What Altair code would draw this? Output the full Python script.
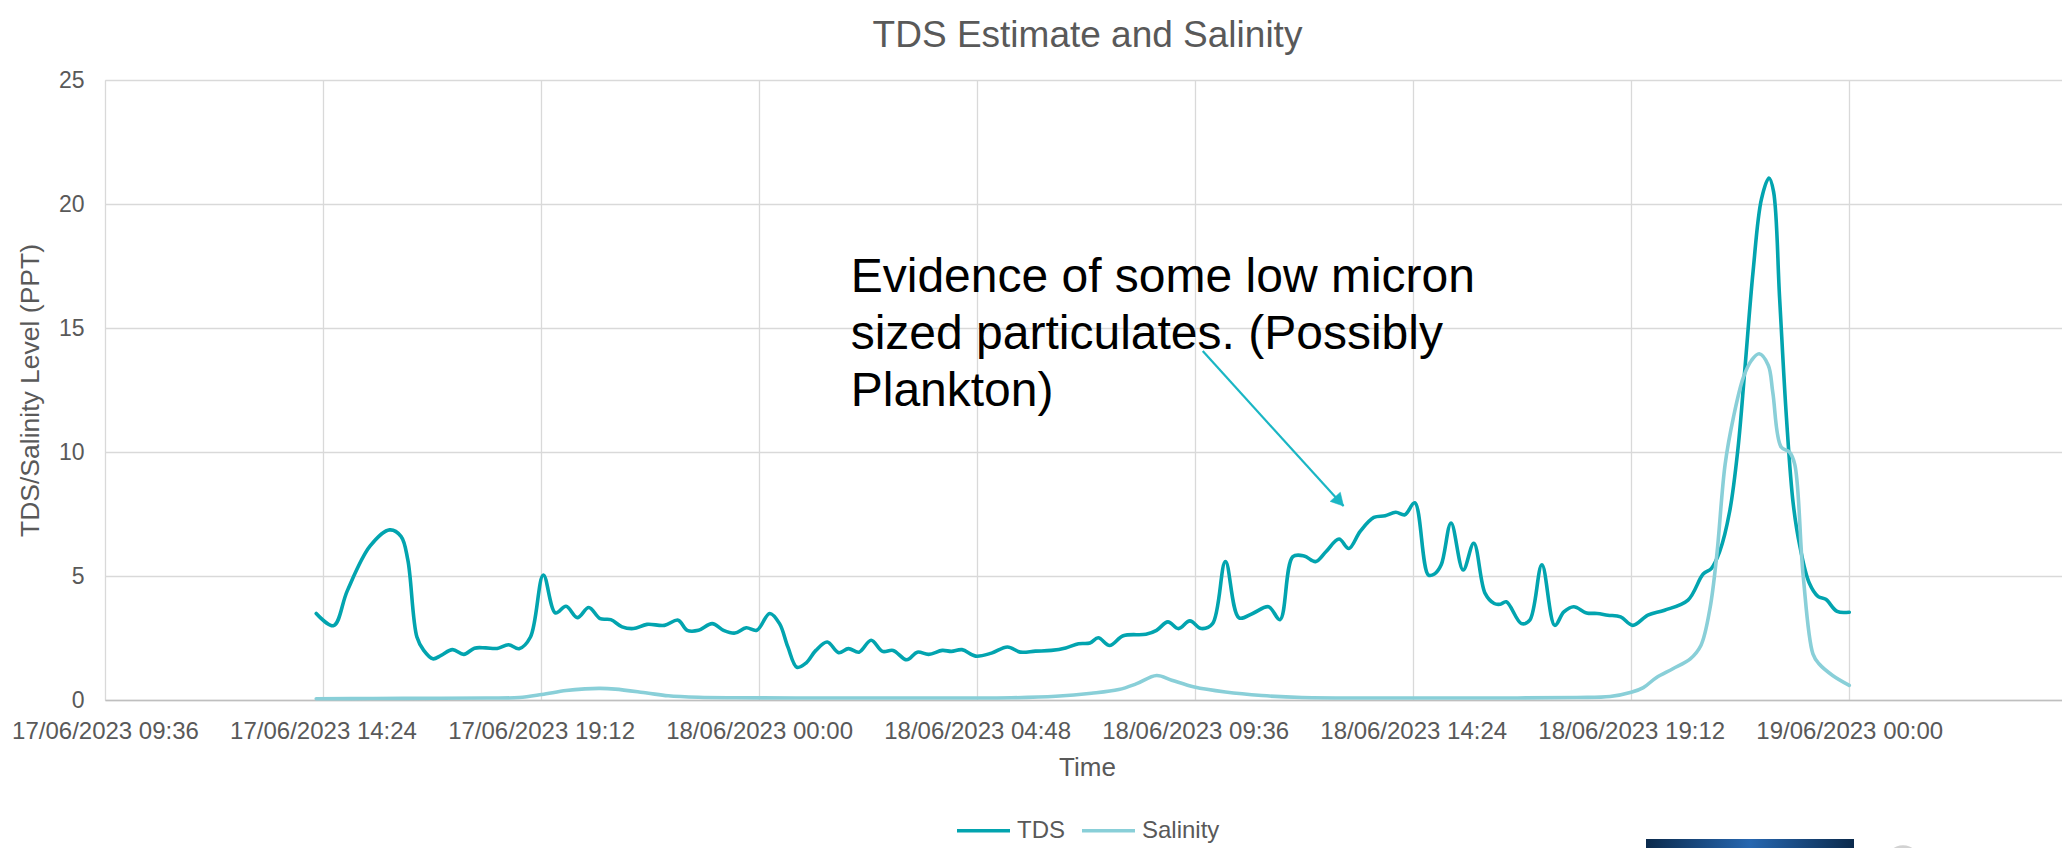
import altair as alt
import pandas as pd

# ---- series values (time stamps are UTC) ----
tds_time = [
    "2023-06-17 14:15", "2023-06-17 14:38", "2023-06-17 14:56", "2023-06-17 15:26",
    "2023-06-17 15:52", "2023-06-17 16:07", "2023-06-17 16:16", "2023-06-17 16:28",
    "2023-06-17 16:37", "2023-06-17 16:49", "2023-06-17 17:00", "2023-06-17 17:15",
    "2023-06-17 17:30", "2023-06-17 17:44", "2023-06-17 17:59", "2023-06-17 18:14",
    "2023-06-17 18:29", "2023-06-17 18:43", "2023-06-17 18:58", "2023-06-17 19:15",
    "2023-06-17 19:31", "2023-06-17 19:45", "2023-06-17 20:00", "2023-06-17 20:15",
    "2023-06-17 20:30", "2023-06-17 20:44", "2023-06-17 20:59", "2023-06-17 21:14",
    "2023-06-17 21:32", "2023-06-17 21:55", "2023-06-17 22:13", "2023-06-17 22:25",
    "2023-06-17 22:40", "2023-06-17 22:58", "2023-06-17 23:13", "2023-06-17 23:28",
    "2023-06-17 23:43", "2023-06-17 23:57",
    "2023-06-18 00:14", "2023-06-18 00:27", "2023-06-18 00:38", "2023-06-18 00:50",
    "2023-06-18 01:02", "2023-06-18 01:15", "2023-06-18 01:30", "2023-06-18 01:45",
    "2023-06-18 01:58", "2023-06-18 02:12", "2023-06-18 02:28", "2023-06-18 02:43",
    "2023-06-18 02:57", "2023-06-18 03:15", "2023-06-18 03:29", "2023-06-18 03:44",
    "2023-06-18 04:02", "2023-06-18 04:14", "2023-06-18 04:28", "2023-06-18 04:46",
    "2023-06-18 05:07", "2023-06-18 05:28", "2023-06-18 05:45", "2023-06-18 06:05",
    "2023-06-18 06:26", "2023-06-18 06:45", "2023-06-18 07:02", "2023-06-18 07:17",
    "2023-06-18 07:28", "2023-06-18 07:43", "2023-06-18 08:01", "2023-06-18 08:31",
    "2023-06-18 08:45", "2023-06-18 09:00", "2023-06-18 09:14", "2023-06-18 09:29",
    "2023-06-18 09:44", "2023-06-18 09:59", "2023-06-18 10:16", "2023-06-18 10:34",
    "2023-06-18 10:52", "2023-06-18 11:13", "2023-06-18 11:28", "2023-06-18 11:45",
    "2023-06-18 12:00", "2023-06-18 12:15", "2023-06-18 12:29", "2023-06-18 12:46",
    "2023-06-18 12:59", "2023-06-18 13:14", "2023-06-18 13:32", "2023-06-18 13:47",
    "2023-06-18 14:01", "2023-06-18 14:13", "2023-06-18 14:26", "2023-06-18 14:44",
    "2023-06-18 14:52", "2023-06-18 15:01", "2023-06-18 15:14", "2023-06-18 15:30",
    "2023-06-18 15:44", "2023-06-18 15:59", "2023-06-18 16:11", "2023-06-18 16:19",
    "2023-06-18 16:27", "2023-06-18 16:47", "2023-06-18 16:58", "2023-06-18 17:14",
    "2023-06-18 17:31", "2023-06-18 17:43", "2023-06-18 17:56", "2023-06-18 18:13",
    "2023-06-18 18:27", "2023-06-18 18:41", "2023-06-18 18:58", "2023-06-18 19:14",
    "2023-06-18 19:34", "2023-06-18 19:56", "2023-06-18 20:27", "2023-06-18 20:47",
    "2023-06-18 20:58", "2023-06-18 21:09", "2023-06-18 21:22", "2023-06-18 21:33",
    "2023-06-18 21:42", "2023-06-18 21:53", "2023-06-18 22:04", "2023-06-18 22:14",
    "2023-06-18 22:20", "2023-06-18 22:28", "2023-06-18 22:37", "2023-06-18 22:46",
    "2023-06-18 22:55", "2023-06-18 23:07", "2023-06-18 23:19", "2023-06-18 23:29",
    "2023-06-18 23:44", "2023-06-19 00:00",
]
tds_value = [
    3.49, 3.00, 4.40, 6.20,
    6.86, 6.60, 5.65, 2.54,
    2.00, 1.66, 1.80, 2.03,
    1.84, 2.09, 2.10, 2.08,
    2.23, 2.07, 2.54, 5.04,
    3.51, 3.78, 3.32, 3.73,
    3.28, 3.24, 2.95, 2.88,
    3.05, 3.01, 3.22, 2.81,
    2.81, 3.08, 2.81, 2.70,
    2.91, 2.81,
    3.49, 3.08, 2.14, 1.32,
    1.49, 2.00, 2.34, 1.91,
    2.07, 1.93, 2.41, 1.96,
    2.00, 1.62, 1.93, 1.84,
    2.00, 1.96, 2.03, 1.77,
    1.89, 2.14, 1.93, 1.97,
    2.00, 2.10, 2.27, 2.30,
    2.51, 2.20, 2.59, 2.65,
    2.81, 3.15, 2.88, 3.19,
    2.88, 3.08, 5.58, 3.31,
    3.49, 3.76, 3.24, 5.78,
    5.81, 5.58, 5.99, 6.49,
    6.11, 6.80, 7.36, 7.43,
    7.57, 7.47, 7.95, 5.04,
    5.08, 5.45, 7.14, 5.24,
    6.32, 4.30, 3.89, 3.86,
    3.96, 3.08, 3.22, 5.45,
    3.01, 3.55, 3.76, 3.51,
    3.49, 3.42, 3.35, 3.01,
    3.42, 3.62, 4.03, 5.08,
    5.31, 6.00, 7.60, 10.14,
    13.30, 17.30, 20.20, 21.05,
    20.50, 16.20, 11.40, 7.90,
    6.16, 4.73, 4.17, 4.06,
    3.57, 3.54,
]

sal_time = [
    "2023-06-17 14:15", "2023-06-17 15:30", "2023-06-17 17:00", "2023-06-17 18:00",
    "2023-06-17 18:43", "2023-06-17 19:13", "2023-06-17 19:45", "2023-06-17 20:10",
    "2023-06-17 20:30", "2023-06-17 20:50", "2023-06-17 21:32", "2023-06-17 22:00",
    "2023-06-17 22:40", "2023-06-17 23:30",
    "2023-06-18 01:37", "2023-06-18 03:30", "2023-06-18 05:33", "2023-06-18 06:32",
    "2023-06-18 07:19", "2023-06-18 07:55", "2023-06-18 08:18", "2023-06-18 08:45",
    "2023-06-18 09:05", "2023-06-18 09:35", "2023-06-18 10:16", "2023-06-18 11:04",
    "2023-06-18 11:57", "2023-06-18 14:00", "2023-06-18 16:00", "2023-06-18 18:00",
    "2023-06-18 18:44", "2023-06-18 19:12", "2023-06-18 19:28", "2023-06-18 19:45",
    "2023-06-18 20:07", "2023-06-18 20:30", "2023-06-18 20:44", "2023-06-18 20:56",
    "2023-06-18 21:05", "2023-06-18 21:16", "2023-06-18 21:27", "2023-06-18 21:40",
    "2023-06-18 21:51", "2023-06-18 22:01", "2023-06-18 22:13", "2023-06-18 22:19",
    "2023-06-18 22:30", "2023-06-18 22:41", "2023-06-18 22:48", "2023-06-18 22:59",
    "2023-06-18 23:12", "2023-06-18 23:20", "2023-06-18 23:38", "2023-06-19 00:00",
]
sal_value = [
    0.05, 0.06, 0.07, 0.08,
    0.10, 0.22, 0.38, 0.45,
    0.47, 0.44, 0.28, 0.17,
    0.11, 0.09,
    0.08, 0.08, 0.09, 0.15,
    0.27, 0.42, 0.65, 0.99,
    0.80, 0.52, 0.32, 0.18,
    0.10, 0.08, 0.08, 0.10,
    0.14, 0.31, 0.50, 0.90,
    1.26, 1.66, 2.20, 3.69,
    5.84, 9.50, 11.40, 13.00,
    13.70, 13.96, 13.50, 12.40,
    10.20, 10.00, 9.50, 5.05,
    1.86, 1.46, 0.99, 0.59,
]

series_names = ["TDS", "Salinity"]
series_colors = ["#02A4AF", "#89CFD8"]

# axis ticks every 4.8 hours, starting at the left edge of the axis
tick_times = [
    "2023-06-17 09:36", "2023-06-17 14:24", "2023-06-17 19:12", "2023-06-18 00:00",
    "2023-06-18 04:48", "2023-06-18 09:36", "2023-06-18 14:24", "2023-06-18 19:12",
    "2023-06-19 00:00",
]
x_start = "2023-06-17 09:36"
x_end = "2023-06-19 04:41"
y_ticks = [0, 5, 10, 15, 20, 25]

note_text = "Evidence of some low micron\nsized particulates. (Possibly\nPlankton)"
note_time = "2023-06-18 02:01"
note_level = 16.45
arrow_from = ("2023-06-18 09:46", 14.07)
arrow_to = ("2023-06-18 12:52", 7.82)

FONT = "Liberation Sans"
GREY = "#595959"


def iso(s):
    return s.replace(" ", "T") + ":00Z"


def dt(s):
    d, t = s.split(" ")
    yy, mm, dd = (int(v) for v in d.split("-"))
    hh, mi = (int(v) for v in t.split(":"))
    return alt.DateTime(year=yy, month=mm, date=dd, hours=hh, minutes=mi, utc=True)


df = pd.concat([
    pd.DataFrame({"time": [iso(t) for t in tds_time], "value": tds_value, "series": "TDS"}),
    pd.DataFrame({"time": [iso(t) for t in sal_time], "value": sal_value, "series": "Salinity"}),
], ignore_index=True)

x_scale = alt.Scale(type="utc", domain=[dt(x_start), dt(x_end)], nice=False)
y_scale = alt.Scale(domain=[0, 25], nice=False)
color_scale = alt.Scale(domain=series_names, range=series_colors)

x_axis = alt.Axis(
    values=[dt(t) for t in tick_times],
    format="%d/%m/%Y %H:%M",
    grid=True, gridColor="#D9D9D9", gridWidth=1.3,
    domain=True, domainColor="#BFBFBF", domainWidth=1.6,
    ticks=False, tickSize=0,
    labelFont=FONT, labelFontSize=24, labelColor=GREY, labelPadding=19,
    labelOverlap=False, labelFlush=False, labelLimit=0,
    title="Time", titleFont=FONT, titleFontSize=26, titleFontWeight="normal",
    titleColor=GREY, titleX=982, titleY=75, titleAlign="center",
    titleBaseline="alphabetic",
)
y_axis = alt.Axis(
    values=y_ticks,
    grid=True, gridColor="#D9D9D9", gridWidth=1.3,
    domain=False, ticks=False, tickSize=0,
    labelFont=FONT, labelFontSize=23, labelColor=GREY, labelPadding=21,
    title="TDS/Salinity Level (PPT)", titleFont=FONT, titleFontSize=26.5,
    titleFontWeight="normal", titleColor=GREY, titleAngle=270,
    titleX=-67, titleY=310, titleAlign="center", titleBaseline="alphabetic",
    titleLimit=0,
)
legend = alt.Legend(
    orient="none", legendX=850, legendY=722, direction="horizontal", title=None,
    symbolType="stroke", symbolSize=2809, symbolStrokeWidth=3.5,
    labelFont=FONT, labelFontSize=24, labelColor=GREY, labelOffset=5,
    columnPadding=10,
)

base = alt.Chart(df).encode(
    x=alt.X("time:T", scale=x_scale, axis=x_axis),
    y=alt.Y("value:Q", scale=y_scale, axis=y_axis),
    color=alt.Color("series:N", scale=color_scale, legend=legend),
)
tds_line = base.transform_filter(alt.datum.series == "TDS").mark_line(
    strokeWidth=3.6, interpolate="catmull-rom", strokeCap="round")
sal_line = base.transform_filter(alt.datum.series == "Salinity").mark_line(
    strokeWidth=3.6, interpolate="catmull-rom", strokeCap="round")

# callout text and its arrow
note_df = pd.DataFrame({"time": [iso(note_time)], "value": [note_level], "label": [note_text]})
note = alt.Chart(note_df).mark_text(
    align="left", baseline="alphabetic", font=FONT, fontSize=48, lineHeight=57,
    lineBreak="\n", color="#000000",
).encode(
    x=alt.X("time:T", scale=x_scale),
    y=alt.Y("value:Q", scale=y_scale),
    text="label:N",
)

arrow_df = pd.DataFrame({
    "t0": [iso(arrow_from[0])], "v0": [arrow_from[1]],
    "t1": [iso(arrow_to[0])], "v1": [arrow_to[1]],
})
ARROW = "#1AB6C4"
arrow_shaft = alt.Chart(arrow_df).mark_rule(color=ARROW, strokeWidth=2.2).encode(
    x=alt.X("t0:T", scale=x_scale), x2="t1:T",
    y=alt.Y("v0:Q", scale=y_scale), y2="v1:Q",
)
arrow_head = alt.Chart(arrow_df).mark_point(
    shape="M0,0 L-0.55,1 L0.55,1 Z", size=620, angle=138,
    filled=True, fill=ARROW, stroke=ARROW, strokeWidth=0.5, opacity=1,
).encode(
    x=alt.X("t1:T", scale=x_scale),
    y=alt.Y("v1:Q", scale=y_scale),
)

# emblems partly visible along the bottom edge
logo = alt.Chart(pd.DataFrame({"k": [0]})).mark_rect(
    fill=alt.LinearGradient(
        gradient="linear", x1=0, x2=1, y1=0, y2=0,
        stops=[
            alt.GradientStop(color="#0B2A4C", offset=0),
            alt.GradientStop(color="#2767B0", offset=0.5),
            alt.GradientStop(color="#0B2A4C", offset=1),
        ],
    ),
).encode(x=alt.value(1541), x2=alt.value(1749), y=alt.value(759), y2=alt.value(780))
badge = alt.Chart(pd.DataFrame({"k": [0]})).mark_circle(
    color="#D2D2D2", opacity=1, size=1134,
).encode(x=alt.value(1798), y=alt.value(782))

chart = alt.layer(tds_line, sal_line, arrow_shaft, arrow_head, note, logo, badge).properties(
    width=1957,
    height=620,
    title=alt.TitleParams(
        "TDS Estimate and Salinity", font=FONT, fontSize=37, fontWeight="normal",
        color=GREY, anchor="middle", frame="group", offset=22, dx=4, dy=8,
    ),
    padding={"left": 105, "top": 80, "right": 0, "bottom": 148},
    autosize=alt.AutoSizeParams(type="none"),
).configure_view(stroke=None).configure(background="white")

chart.save("out.html", embed_options={"renderer": "svg", "actions": False})
